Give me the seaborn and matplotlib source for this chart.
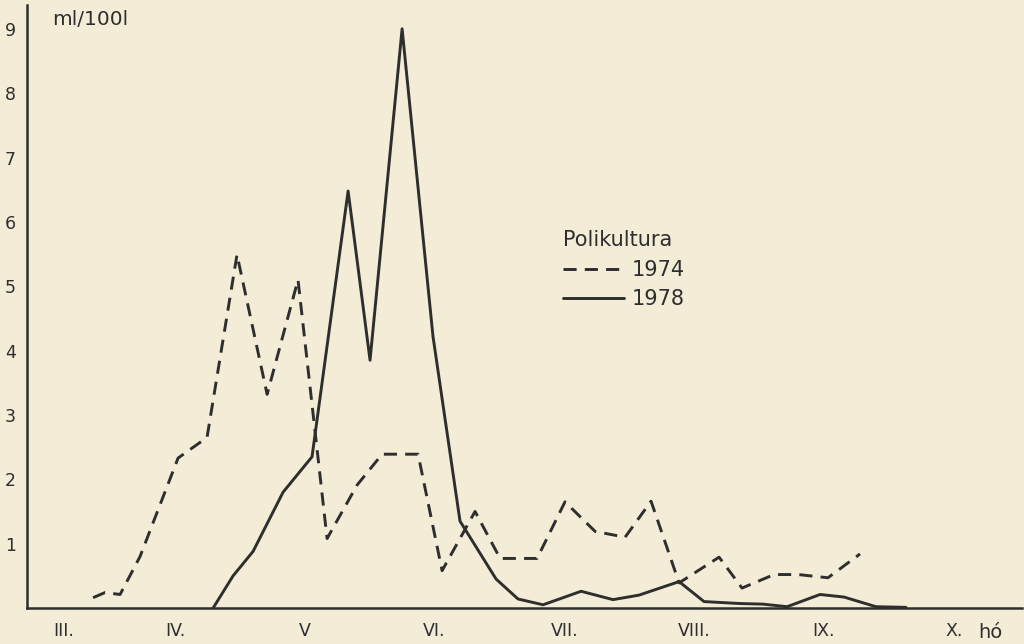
import numpy as np
import pandas as pd
import matplotlib
matplotlib.use("Agg")
import matplotlib.pyplot as plt
import seaborn as sns

sns.set_style("white")
plt.rcParams['font.family'] = ['DejaVu Sans']

# month position: 4.0 = 1 April, 5.0 = 1 May, ...
month_1974 = [3.869, 3.961, 4.077, 4.231, 4.524, 4.747, 4.978, 5.210, 5.448, 5.672,
              5.903, 6.096, 6.373, 6.558, 6.812, 7.005, 7.290, 7.505, 7.737, 7.968,
              8.168, 8.384, 8.692, 8.869, 9.116, 9.300, 9.531, 9.778]
vol_1974 = [0.16, 0.24, 0.21, 0.80, 2.33, 2.65, 5.49, 3.32, 5.10, 1.08,
            1.91, 2.39, 2.39, 0.58, 1.50, 0.77, 0.77, 1.65, 1.19, 1.10,
            1.66, 0.39, 0.79, 0.31, 0.52, 0.52, 0.47, 0.84]

month_1978 = [4.794, 4.948, 5.102, 5.333, 5.556, 5.834, 6.003, 6.250, 6.488, 6.696,
              6.974, 7.143, 7.336, 7.629, 7.875, 8.075, 8.384, 8.576, 8.846, 9.031,
              9.216, 9.470, 9.655, 9.901, 10.132]
vol_1978 = [0.0, 0.50, 0.88, 1.80, 2.35, 6.48, 3.85, 9.0, 4.22, 1.35,
            0.45, 0.14, 0.05, 0.26, 0.13, 0.20, 0.41, 0.10, 0.07, 0.06,
            0.02, 0.21, 0.17, 0.02, 0.01]

month_labels = ["III.", "IV.", "V", "VI.", "VII.", "VIII.", "IX.", "X."]
label_pos = [3.64, 4.5, 5.5, 6.5, 7.5, 8.5, 9.5, 10.5]

df = pd.concat([
    pd.DataFrame({"month": month_1974, "ml": vol_1974, "year": "1974"}),
    pd.DataFrame({"month": month_1978, "ml": vol_1978, "year": "1978"}),
])

paper = "#f3ecd6"
ink = "#2e2e2e"

fig = plt.figure(figsize=(10.24, 6.44), dpi=100)
fig.patch.set_facecolor(paper)
ax = fig.add_axes([27 / 1024, 36 / 644, 995 / 1024, 603 / 644])
ax.set_facecolor(paper)

sns.lineplot(data=df, x="month", y="ml", style="year", estimator=None,
             dashes={"1974": (4.5, 2.8), "1978": ""}, color=ink, linewidth=2.1, ax=ax)

ax.set_xlim(3.36, 11.026)
ax.set_ylim(0, 9.37)

for side in ["top", "right"]:
    ax.spines[side].set_visible(False)
for side in ["left", "bottom"]:
    ax.spines[side].set_color(ink)
    ax.spines[side].set_linewidth(1.8)

ax.set_yticks(range(1, 10))
ax.set_xticks(range(4, 12))
ax.set_xticklabels([])
ax.set_xticks(label_pos, minor=True)
ax.set_xticklabels(month_labels, minor=True)
ax.tick_params(axis="y", direction="out", length=5, width=1.5, color=ink,
               labelsize=12.5, labelcolor=ink, pad=3)
ax.tick_params(axis="x", which="major", direction="out", length=6, width=1.5, color=ink)
ax.tick_params(axis="x", which="minor", length=0, pad=10, labelsize=12.5, labelcolor=ink)
ax.set_xlabel("")
ax.set_ylabel("")

ax.text(3.553, 9.14, "ml/100l", fontsize=14.5, color=ink, ha="left", va="center")
ax.text(10.78, -0.38, "hó", fontsize=14, color=ink, ha="center", va="center")

handles, labels = ax.get_legend_handles_labels()
leg = ax.legend(handles, labels, title="Polikultura", frameon=False, fontsize=15,
                title_fontsize=15, loc="upper left",
                bbox_to_anchor=(553 / 1024, 1 - 220 / 644), bbox_transform=fig.transFigure,
                handlelength=2.9, handletextpad=0.4, labelspacing=0.45, borderpad=0)
leg._legend_box.align = "left"
for t in leg.get_texts():
    t.set_color(ink)
leg.get_title().set_color(ink)

fig.savefig("out.png", dpi=100, facecolor=paper)
